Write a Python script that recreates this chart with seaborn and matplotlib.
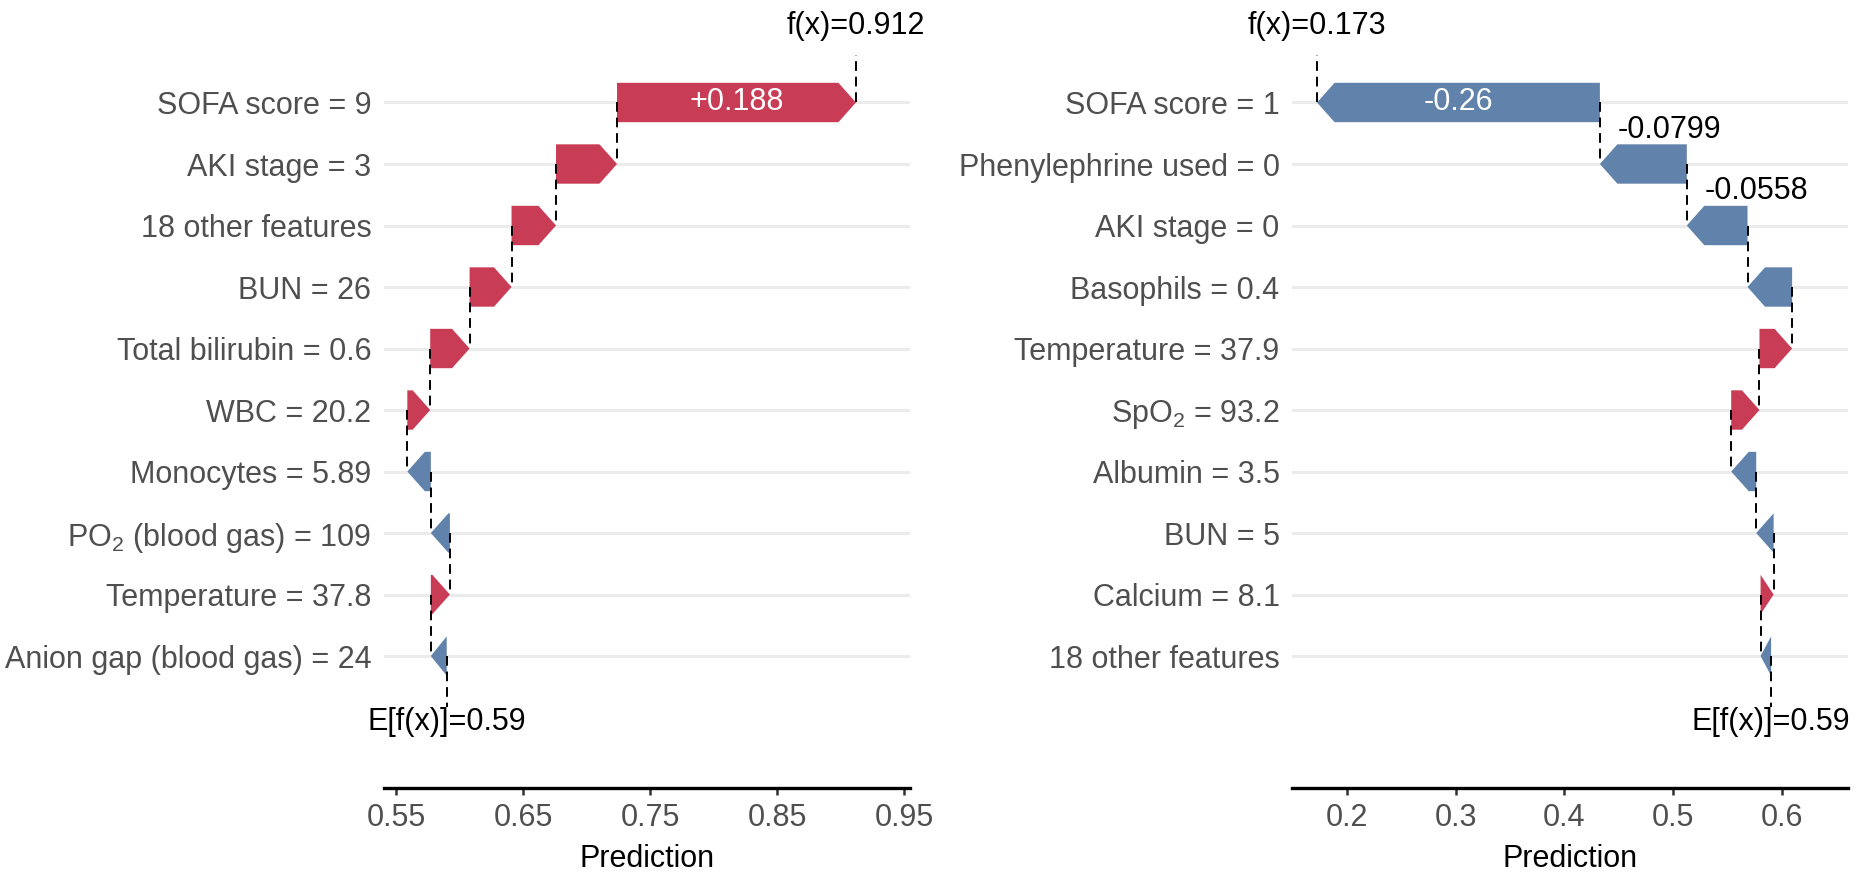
import numpy as np
import matplotlib
matplotlib.use("Agg")
import matplotlib.pyplot as plt
from matplotlib.patches import Polygon
import seaborn as sns

# --- data ---
base_value = 0.59

labels_left = ["SOFA score = 9", "AKI stage = 3", "18 other features", "BUN = 26",
               "Total bilirubin = 0.6", "WBC = 20.2", "Monocytes = 5.89",
               "PO$_2$ (blood gas) = 109", "Temperature = 37.8",
               "Anion gap (blood gas) = 24"]
shap_left = [0.188, 0.048, 0.035, 0.033, 0.031, 0.018, -0.0185, -0.015, 0.015, -0.0125]
text_left = ["+0.188", "", "", "", "", "", "", "", "", ""]
fx_left = "f(x)=0.912"
ticks_left = [0.55, 0.65, 0.75, 0.85, 0.95]

labels_right = ["SOFA score = 1", "Phenylephrine used = 0", "AKI stage = 0",
                "Basophils = 0.4", "Temperature = 37.9", "SpO$_2$ = 93.2",
                "Albumin = 3.5", "BUN = 5", "Calcium = 8.1", "18 other features"]
shap_right = [-0.26, -0.0799, -0.0558, -0.041, 0.030, 0.026, -0.023, -0.016, 0.012, -0.0097]
text_right = ["-0.26", "-0.0799", "-0.0558", "", "", "", "", "", "", ""]
fx_right = "f(x)=0.173"
ticks_right = [0.2, 0.3, 0.4, 0.5, 0.6]

RED = "#C93C55"
BLUE = "#6082AB"
GRID = "#EBEBEB"
LABEL_GRAY = "#4F4F4F"
FS = 22

sns.set_theme(style="white")
plt.rcParams["font.family"] = ["Liberation Sans", "DejaVu Sans"]
plt.rcParams["mathtext.default"] = "regular"


def waterfall(ax, labels, values, texts, fx_text, ticks, xlim, head_len, tick_fmt):
    n = len(labels)
    ys = np.arange(n)[::-1]          # first label at the top
    # cumulative positions, built from the bottom row upwards
    starts = np.zeros(n)
    ends = np.zeros(n)
    cur = base_value
    for i in range(n - 1, -1, -1):
        starts[i] = cur
        cur = cur + values[i]
        ends[i] = cur

    h = 0.64
    for i in range(n):
        ax.axhline(ys[i], color=GRID, lw=2.2, zorder=0)
        s, e, y = starts[i], ends[i], ys[i]
        d = np.sign(values[i])
        hl = min(abs(values[i]), head_len)
        pts = [(s, y - h / 2), (e - d * hl, y - h / 2), (e, y),
               (e - d * hl, y + h / 2), (s, y + h / 2)]
        col = RED if values[i] > 0 else BLUE
        ax.add_patch(Polygon(pts, closed=True, facecolor=col, edgecolor="none", zorder=2))

        if texts[i]:
            if abs(values[i]) > 0.1:
                ax.text((s + e) / 2, y, texts[i], color="white", fontsize=FS,
                        ha="center", va="center", zorder=4)
            else:
                ax.text(min(s, e) + 0.016, y + 0.56, texts[i], color="black",
                        fontsize=FS, ha="left", va="center", zorder=4)

    dash = (0, (5, 3))
    lw_d = 1.4
    # connectors between consecutive rows
    for i in range(n - 1):
        ax.plot([starts[i], starts[i]], [ys[i], ys[i + 1]], color="black",
                lw=lw_d, ls=dash, zorder=3)
    # expected value at the bottom, prediction at the top
    ax.plot([base_value, base_value], [ys[-1], -0.83], color="black", lw=lw_d, ls=dash,
            zorder=3, clip_on=False)
    ax.text(base_value, -1.07, "E[f(x)]=%g" % base_value, fontsize=FS, color="black",
            ha="center", va="center", clip_on=False)
    ax.plot([ends[0], ends[0]], [ys[0], ys[0] + 0.78], color="black", lw=lw_d, ls=dash,
            zorder=3, clip_on=False)
    ax.text(ends[0], ys[0] + 1.25, fx_text, fontsize=FS, color="black",
            ha="center", va="center", clip_on=False)

    ax.set_yticks(ys)
    ax.set_yticklabels(labels, fontsize=FS, color=LABEL_GRAY)
    ax.set_xticks(ticks)
    ax.set_xticklabels([tick_fmt % t for t in ticks], fontsize=FS, color=LABEL_GRAY)
    ax.set_xlim(*xlim)
    ax.set_ylim(-2.146, 10.52)
    ax.set_xlabel("Prediction", fontsize=FS, color="black", labelpad=8)
    ax.tick_params(axis="y", left=False, length=0, pad=9)
    ax.tick_params(axis="x", bottom=True, length=5, width=1.8, color="#333333",
                   pad=6, direction="out")
    sns.despine(ax=ax, left=True, top=True, right=True)
    ax.spines["bottom"].set_linewidth(2.4)
    ax.spines["bottom"].set_color("black")


fig = plt.figure(figsize=(18.62, 8.75), dpi=100)
ax1 = fig.add_axes([0.2062, 0.0994, 0.2825, 0.8903])
ax2 = fig.add_axes([0.6939, 0.0994, 0.2986, 0.8903])

waterfall(ax1, labels_left, shap_left, text_left, fx_left, ticks_left,
          (0.5406, 0.9545), 0.0138, "%.2f")
waterfall(ax2, labels_right, shap_right, text_right, fx_right, ticks_right,
          (0.1496, 0.6607), 0.0161, "%.1f")

fig.savefig("out.png", dpi=100)
